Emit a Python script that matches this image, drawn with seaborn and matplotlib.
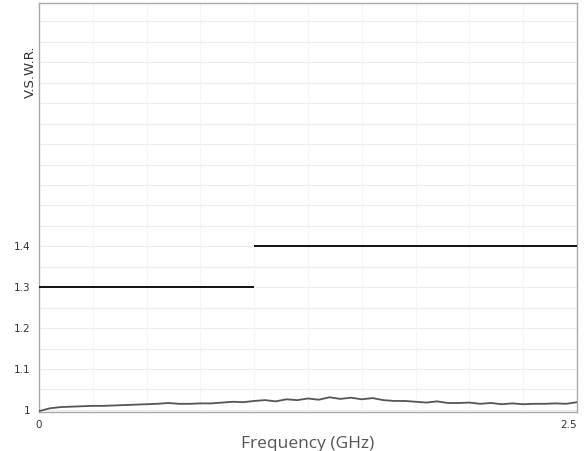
import numpy as np
import matplotlib
matplotlib.use("Agg")
import matplotlib.pyplot as plt
import pandas as pd
import seaborn as sns

freq = [0.00, 0.05, 0.10, 0.15, 0.20, 0.25, 0.30, 0.35, 0.40, 0.45,
        0.50, 0.55, 0.60, 0.65, 0.70, 0.75, 0.80, 0.85, 0.90, 0.95,
        1.00, 1.05, 1.10, 1.15, 1.20, 1.25, 1.30, 1.35, 1.40, 1.45,
        1.50, 1.55, 1.60, 1.65, 1.70, 1.75, 1.80, 1.85, 1.90, 1.95,
        2.00, 2.05, 2.10, 2.15, 2.20, 2.25, 2.30, 2.35, 2.40, 2.45, 2.50]
vswr = [0.997, 1.004, 1.007, 1.008, 1.009, 1.010, 1.010, 1.011, 1.012, 1.013,
        1.014, 1.015, 1.017, 1.015, 1.015, 1.016, 1.016, 1.018, 1.020, 1.019,
        1.022, 1.024, 1.021, 1.026, 1.024, 1.028, 1.025, 1.031, 1.027, 1.030,
        1.026, 1.029, 1.024, 1.022, 1.022, 1.020, 1.018, 1.021, 1.017, 1.017,
        1.018, 1.015, 1.017, 1.014, 1.016, 1.014, 1.015, 1.015, 1.016, 1.015, 1.019]

# spec limit lines
limit_start = [0.0, 1.0]
limit_end = [1.0, 2.5]
limit_vswr = [1.3, 1.4]

ytick_vals = [1, 1.1, 1.2, 1.3, 1.4]
ytick_labels = ['1', '1.1', '1.2', '1.3', '1.4']
xtick_vals = [0, 2.5]
xtick_labels = ['0', '2.5']

sns.set_style('white')
plt.rcParams['font.family'] = ['DejaVu Sans']

df = pd.DataFrame({'freq': freq, 'vswr': vswr})

fig = plt.figure(figsize=(5.85, 4.51), dpi=100)
ax = fig.add_axes([0.0667, 0.0865, 0.9196, 0.9068])

# faint background grid
for y in np.arange(1.0, 2.0, 0.05):
    ax.axhline(y, color='#ececec', lw=0.8, zorder=0)
for x in np.arange(0.25, 2.5, 0.25):
    ax.axvline(x, color='#f5f5f5', lw=0.8, zorder=0)

sns.lineplot(data=df, x='freq', y='vswr', color='#555555', lw=1.3, ax=ax, zorder=3)
ax.hlines(limit_vswr, limit_start, limit_end, color='#111111', lw=1.4, zorder=4)

ax.set_xlim(0, 2.5)
ax.set_ylim(0.995, 1.995)
ax.set_yticks(ytick_vals)
ax.set_yticklabels(ytick_labels, fontsize=7.5, color='#333333')
ax.set_xticks(xtick_vals)
ax.set_xticklabels(xtick_labels, fontsize=7.5, color='#333333')
ax.get_xticklabels()[-1].set_horizontalalignment('right')
ax.tick_params(length=0, pad=6)

ax.set_xlabel('Frequency (GHz)', fontsize=12.5, color='#555555',
              family=['Open Sans', 'DejaVu Sans'], labelpad=4)
ax.set_ylabel('')
fig.text(0.052, 0.84, 'V.S.W.R.', rotation=90, fontsize=9.5, color='#333333',
         ha='center', va='center')

for s in ax.spines.values():
    s.set_color('#aaaaaa')
    s.set_linewidth(1.0)

fig.savefig('out.png', dpi=100)
